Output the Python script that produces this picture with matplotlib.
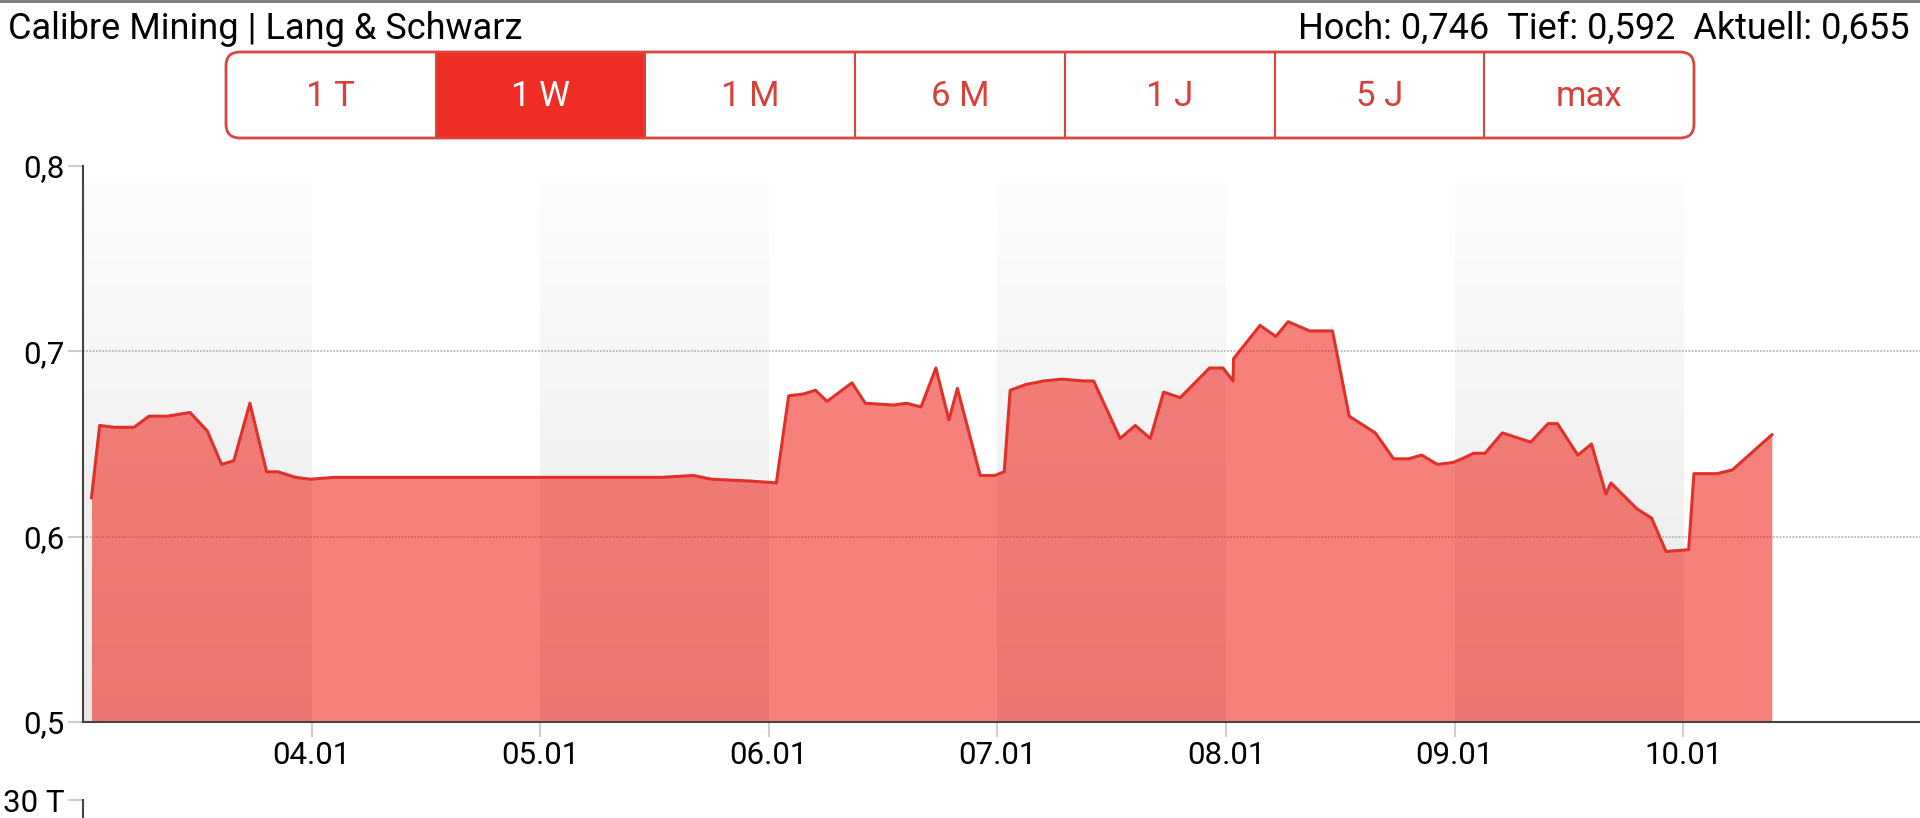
#!/usr/bin/env python3
"""Calibre Mining (Lang & Schwarz) one-week intraday area chart."""

import numpy as np
import matplotlib.pyplot as plt
from matplotlib.colors import LinearSegmentedColormap
from matplotlib.patches import FancyBboxPatch, Rectangle

plt.rcParams["font.family"] = ["Roboto", "DejaVu Sans"]

TITLE = "Calibre Mining | Lang & Schwarz"
STATS = "Hoch: 0,746  Tief: 0,592  Aktuell: 0,655"
BUTTONS = ["1 T", "1 W", "1 M", "6 M", "1 J", "5 J", "max"]
ACTIVE_BUTTON = "1 W"

# time in days of January, price in EUR
DAY = [
    3.037, 3.073, 3.136, 3.223, 3.289, 3.369, 3.468, 3.544, 3.606, 3.660,
    3.730, 3.803, 3.853, 3.930, 3.996, 4.098, 4.870, 5.530, 5.670, 5.750,
    5.920, 6.033, 6.087, 6.153, 6.204, 6.255, 6.364, 6.422, 6.546, 6.602,
    6.666, 6.731, 6.788, 6.825, 6.925, 6.988, 7.030, 7.056, 7.122, 7.202,
    7.282, 7.377, 7.421, 7.537, 7.603, 7.669, 7.727, 7.800, 7.928, 7.987,
    8.031, 8.033, 8.149, 8.218, 8.272, 8.366, 8.466, 8.539, 8.653, 8.733,
    8.798, 8.856, 8.925, 8.992, 9.032, 9.083, 9.133, 9.209, 9.333, 9.409,
    9.450, 9.539, 9.599, 9.662, 9.684, 9.798, 9.862, 9.925, 10.024, 10.047,
    10.148, 10.215, 10.388,
]
PRICE = [
    0.621, 0.660, 0.659, 0.659, 0.665, 0.665, 0.667, 0.657, 0.639, 0.641,
    0.672, 0.635, 0.635, 0.632, 0.631, 0.632, 0.632, 0.632, 0.633, 0.631,
    0.630, 0.629, 0.676, 0.677, 0.679, 0.673, 0.683, 0.672, 0.671, 0.672,
    0.670, 0.691, 0.663, 0.680, 0.633, 0.633, 0.635, 0.679, 0.682, 0.684,
    0.685, 0.684, 0.684, 0.653, 0.660, 0.653, 0.678, 0.675, 0.691, 0.691,
    0.684, 0.696, 0.714, 0.708, 0.716, 0.711, 0.711, 0.665, 0.656, 0.642,
    0.642, 0.644, 0.639, 0.640, 0.642, 0.645, 0.645, 0.656, 0.651, 0.661,
    0.661, 0.644, 0.650, 0.623, 0.629, 0.615, 0.610, 0.592, 0.593, 0.634,
    0.634, 0.636, 0.655,
]

SHADED_DAYS = [3, 5, 7, 9]
X_TICKS = [4, 5, 6, 7, 8, 9, 10]
X_LABELS = ["04.01", "05.01", "06.01", "07.01", "08.01", "09.01", "10.01"]
Y_TICKS = [0.5, 0.6, 0.7, 0.8]
Y_LABELS = ["0,5", "0,6", "0,7", "0,8"]

W, H = 1920, 818
RED = "#ee2e24"
LINE_RED = "#e0302a"
BTN_TEXT = "#d8403a"


def main():
    fig = plt.figure(figsize=(W / 100, H / 100), dpi=100)

    ax = fig.add_axes([83 / W, (H - 722) / H, 1 - 83 / W, (722 - 166) / H])
    x0, x1 = 3.0, 11.036
    y0, y1 = 0.5, 0.8

    # alternating day bands with a soft vertical gradient
    grad = LinearSegmentedColormap.from_list("band", ["#e8e8e8", "#fdfdfd"])
    band_top = 0.7913
    for d in SHADED_DAYS:
        ax.imshow(
            np.linspace(0, 1, 256).reshape(-1, 1)[::-1],
            extent=(d, d + 1, y0, band_top),
            aspect="auto",
            cmap=grad,
            zorder=0,
        )

    for v in [0.6, 0.7]:
        ax.axhline(v, color="#b8b8b8", linestyle=(0, (1, 0.8)), linewidth=1.3, zorder=1)

    ax.fill_between(DAY, PRICE, y0, color=(239 / 255, 30 / 255, 20 / 255),
                    alpha=0.56, linewidth=0, zorder=2)
    ax.plot(DAY, PRICE, color=LINE_RED, linewidth=2.2, zorder=3)

    ax.set_xlim(x0, x1)
    ax.set_ylim(y0, y1)
    ax.set_xticks(X_TICKS)
    ax.set_xticklabels(X_LABELS)
    ax.set_yticks(Y_TICKS)
    ax.set_yticklabels(Y_LABELS)
    ax.tick_params(axis="x", length=11, width=1.5, color="#cccccc",
                   labelsize=22.5, pad=3)
    ax.tick_params(axis="y", length=11, width=1.5, color="#cccccc",
                   labelsize=22.5, pad=2)
    for side in ["top", "right"]:
        ax.spines[side].set_visible(False)
    for side in ["left", "bottom"]:
        ax.spines[side].set_color("#444444")
        ax.spines[side].set_linewidth(1.5)

    # cut-off volume panel below
    vol = fig.add_axes([83 / W, 0, 1 - 83 / W, (H - 800) / H])
    vol.set_ylim(0, 30)
    vol.set_yticks([30])
    vol.set_yticklabels(["30 T"])
    vol.set_xticks([])
    vol.tick_params(axis="y", length=11, width=1.5, color="#cccccc",
                    labelsize=22.5, pad=2)
    vol.patch.set_visible(False)
    for side in ["top", "right", "bottom"]:
        vol.spines[side].set_visible(False)
    vol.spines["left"].set_color("#444444")
    vol.spines["left"].set_linewidth(1.5)

    # header and period buttons in pixel coordinates
    over = fig.add_axes([0, 0, 1, 1])
    over.set_xlim(0, W)
    over.set_ylim(H, 0)
    over.axis("off")

    over.plot([0, W], [1, 1], color="#777777", linewidth=2)
    over.text(8, 39, TITLE, fontsize=26, va="baseline", ha="left")
    over.text(1910, 39, STATS, fontsize=26, va="baseline", ha="right")

    bx0, bx1, by0, by1 = 226, 1694, 52, 138
    bw = (bx1 - bx0) / len(BUTTONS)
    for i, label in enumerate(BUTTONS):
        left = bx0 + i * bw
        active = label == ACTIVE_BUTTON
        if active:
            over.add_patch(Rectangle((left, by0), bw, by1 - by0,
                                     facecolor=RED, edgecolor="none"))
        if i > 0:
            over.plot([left, left], [by0, by1], color="#d9463e", linewidth=1.5)
        over.text(left + bw / 2, 96, label, fontsize=25, ha="center",
                  va="center", color="white" if active else BTN_TEXT)
    over.add_patch(FancyBboxPatch((bx0, by0), bx1 - bx0, by1 - by0,
                                  boxstyle="round,pad=0,rounding_size=14",
                                  facecolor="none", edgecolor="#d9463e",
                                  linewidth=2))

    fig.savefig("out.png", dpi=100)
    plt.close(fig)


if __name__ == "__main__":
    main()
